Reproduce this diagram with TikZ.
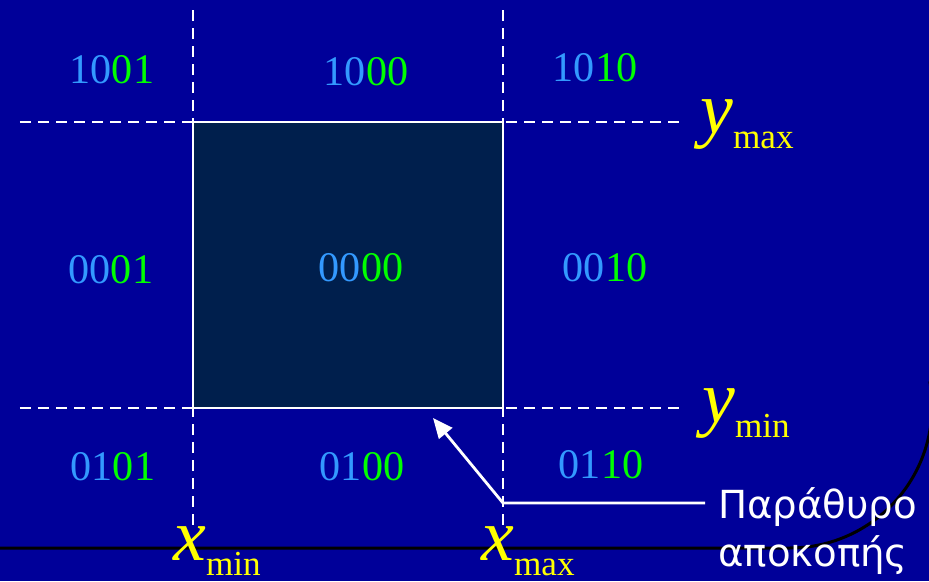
\documentclass[tikz,border=0pt]{standalone}
\usepackage{fontspec}
\setmainfont{Liberation Serif}
\newfontfamily\greekfont{DejaVu Sans}
\usetikzlibrary{arrows.meta,positioning,calc}
\definecolor{bgBlue}{RGB}{0,0,153}
\definecolor{winFill}{RGB}{0,31,77}
\definecolor{codeBlue}{RGB}{51,153,255}
\definecolor{codeGreen}{RGB}{0,255,0}
\definecolor{labelYellow}{RGB}{255,255,0}
\newcommand{\codeBits}[2]{\textcolor{codeBlue}{#1}\textcolor{codeGreen}{#2}}
\newcommand{\boundLabel}[2]{{\fontsize{42}{42}\selectfont\itshape #1}%
  \raisebox{-0.3cm}{\fontsize{20}{20}\selectfont #2}}

\begin{document}
\begin{tikzpicture}[
  every node/.style={inner sep=0pt},
  code/.style={font=\fontsize{24}{26}\selectfont},
  bound/.style={anchor=base west, text=labelYellow},
  guide/.style={draw=white, line width=1.6pt, dash pattern=on 0.22cm off 0.14cm},
  window/.style={draw=white, line width=1.6pt, fill=winFill,
                 minimum width=6.2cm, minimum height=5.72cm},
  pointer/.style={draw=white, line width=1.6pt,
                  -{Triangle[length=0.4cm,width=0.34cm]}},
]

% Page
\clip (0,0) rectangle (18.58,11.62);
\fill[bgBlue] (0,0) rectangle (18.58,11.62);

% Slide frame line
\draw[line width=0.06cm] (0,0.66) -- (15.8,0.66)
  arc[start angle=-90, end angle=10, radius=2.84];

% Boundary lines
\draw[guide] (3.86,11.42) -- (3.86,1.12);
\draw[guide] (10.06,11.42) -- (10.06,1.12);
\draw[guide] (0.4,9.18) -- (13.7,9.18);
\draw[guide] (0.4,3.46) -- (13.7,3.46);

% Clipping window
\node[window] (win) at (6.96,6.32) {};

% Region codes
\node[code] (c1001) at (2.24,10.22) {\codeBits{10}{01}};
\node[code] (c1000) at (7.32,10.18) {\codeBits{10}{00}};
\node[code] (c1010) at (11.9,10.26) {\codeBits{10}{10}};
\node[code] (c0001) at (2.22,6.22) {\codeBits{00}{01}};
\node[code] (c0000) at (7.22,6.26) {\codeBits{00}{00}};
\node[code] (c0010) at (12.1,6.26) {\codeBits{00}{10}};
\node[code] (c0101) at (2.26,2.28) {\codeBits{01}{01}};
\node[code] (c0100) at (7.24,2.28) {\codeBits{01}{00}};
\node[code] (c0110) at (12.02,2.32) {\codeBits{01}{10}};

% Bounds
\node[bound] (ymax) at (14.0,8.96) {\boundLabel{y}{max}};
\node[bound] (ymin) at (14.04,3.18) {\boundLabel{y}{min}};
\node[bound] (xmin) at (3.46,0.42) {\boundLabel{x}{min}};
\node[bound] (xmax) at (9.62,0.42) {\boundLabel{x}{max}};

% Window label
\node[anchor=west, align=left, text=white, font=\greekfont\fontsize{22}{27}\selectfont]
  (winlabel) at (14.36,1.0) {Παράθυρο\\αποκοπής};
\coordinate (elbow) at (10.06,1.56);
\coordinate (tip) at (8.66,3.26);
\draw[pointer] ($(elbow -| winlabel.west)+(-0.26,0)$) -- (elbow) -- (tip);

\end{tikzpicture}
\end{document}
